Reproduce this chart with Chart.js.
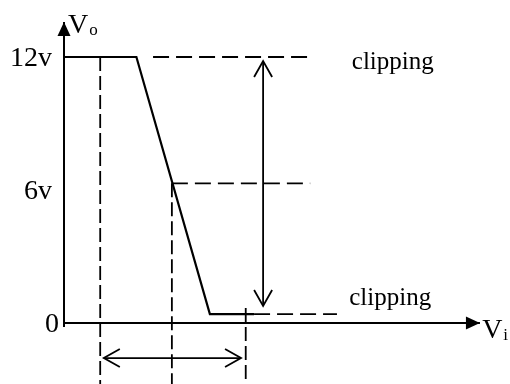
<!DOCTYPE html>
<html>
<head>
<meta charset="utf-8">
<script src="https://cdn.jsdelivr.net/npm/chart.js@4"></script>
<style>
  body { margin: 0; background: #fff; }
  canvas { display: block; }
</style>
</head>
<body>
<canvas id="clipChart" width="510" height="384"></canvas>
<script>
// y axis ticks
const tickValues = [0, 6, 12];
const tickLabels = ["0", "6v", "12v"];

// transfer curve Vo against Vi
const curveVi = [0, 2, 4.03, 5.25];
const curveVo = [12, 12, 0.4, 0.4];

// guide lines (dashed)
const topGuideVi = [2.46, 6.88];
const topGuideVo = [12, 12];
const midGuideVi = [2.98, 6.8];
const midGuideVo = [6.3, 6.3];
const lowGuideVi = [5.25, 7.54];
const lowGuideVo = [0.4, 0.4];
const dropVi = [1.0, 2.98, 5.02];
const dropTopVo = [12, 6.3, 0.68];
const dropBottomVo = -2.75;

// double arrows: output swing and input range
const swingVi = [5.5, 5.5];
const swingVo = [11.82, 0.77];
const rangeVi = [1.1, 4.89];
const rangeVo = [-1.58, -1.58];

// axes
const yAxisVi = [0, 0];
const yAxisVo = [-0.18, 13.58];
const xAxisVi = [0, 11.49];
const xAxisVo = [0, 0];

const serif = "'Liberation Serif', 'Times New Roman', serif";

const pts = (xs, ys) => xs.map((x, i) => ({ x: x, y: ys[i] }));

const line = (data, extra) => Object.assign({
    data: data,
    showLine: true,
    borderColor: "#000",
    borderWidth: 2,
    pointRadius: 0,
    tension: 0,
    clip: false
}, extra);

let datasets = [
    line(pts(yAxisVi, yAxisVo), { arrow: "filled" }),
    line(pts(xAxisVi, xAxisVo), { arrow: "filled" }),
    line(pts(topGuideVi, topGuideVo), { borderDash: [16, 7], borderWidth: 1.8 }),
    line(pts(midGuideVi, midGuideVo), { borderDash: [16, 7], borderWidth: 1.8 }),
    line(pts(lowGuideVi, lowGuideVo), { borderDash: [16, 7], borderWidth: 1.8 })
];

for (let i = 0; i < dropVi.length; i++) {
    datasets.push(line(pts([dropVi[i], dropVi[i]], [dropTopVo[i], dropBottomVo]),
        { borderDash: [14, 5], borderWidth: 1.8 }));
}

datasets.push(line(pts(curveVi, curveVo), { borderWidth: 2.2 }));
datasets.push(line(pts(swingVi, swingVo), { arrow: "open", arrowBoth: true, borderWidth: 1.8 }));
datasets.push(line(pts(rangeVi, rangeVo), { arrow: "open", arrowBoth: true, borderWidth: 1.8 }));

// free text, placed in data units
const notes = [
    { text: "clipping", x: 7.95, y: 11.46, size: 25 },
    { text: "clipping", x: 7.88, y: 0.81, size: 25 },
    { text: "V", sub: "o", x: 0.11, y: 13.08, size: 28 },
    { text: "V", sub: "i", x: 11.55, y: -0.68, size: 28 }
];

const arrowPlugin = {
    id: "arrows",
    afterDatasetsDraw(chart) {
        const ctx = chart.ctx;
        chart.data.datasets.forEach((ds, i) => {
            if (!ds.arrow) return;
            const p = chart.getDatasetMeta(i).data;
            let ends = [[p[p.length - 2], p[p.length - 1]]];
            if (ds.arrowBoth) ends.push([p[1], p[0]]);

            ends.forEach(([a, b]) => {
                const ang = Math.atan2(b.y - a.y, b.x - a.x);
                const c = Math.cos(ang), s = Math.sin(ang);
                ctx.save();
                ctx.strokeStyle = "#000";
                ctx.fillStyle = "#000";
                if (ds.arrow === "filled") {
                    const len = 14, half = 6.5;
                    ctx.beginPath();
                    ctx.moveTo(b.x, b.y);
                    ctx.lineTo(b.x - len * c - half * s, b.y - len * s + half * c);
                    ctx.lineTo(b.x - len * c + half * s, b.y - len * s - half * c);
                    ctx.closePath();
                    ctx.fill();
                } else {
                    const len = 16, half = 9;
                    ctx.lineWidth = 1.8;
                    ctx.beginPath();
                    ctx.moveTo(b.x - len * c - half * s, b.y - len * s + half * c);
                    ctx.lineTo(b.x, b.y);
                    ctx.lineTo(b.x - len * c + half * s, b.y - len * s - half * c);
                    ctx.stroke();
                }
                ctx.restore();
            });
        });

        // texts
        const xs = chart.scales.x, ys = chart.scales.y;
        notes.forEach(n => {
            const px = xs.getPixelForValue(n.x);
            const py = ys.getPixelForValue(n.y);
            ctx.save();
            ctx.fillStyle = "#000";
            ctx.textBaseline = "alphabetic";
            ctx.textAlign = "left";
            ctx.font = n.size + "px " + serif;
            ctx.fillText(n.text, px, py);
            if (n.sub) {
                const w = ctx.measureText(n.text).width;
                ctx.font = Math.round(n.size * 0.6) + "px " + serif;
                ctx.fillText(n.sub, px + w + 1, py + 2);
            }
            ctx.restore();
        });
    }
};

const clipChart = new Chart(document.getElementById("clipChart"), {
    type: "scatter",
    data: { datasets: datasets },
    plugins: [arrowPlugin],
    options: {
        responsive: false,
        animation: false,
        layout: { padding: 0 },
        plugins: {
            legend: { display: false },
            tooltip: { enabled: false }
        },
        scales: {
            x: {
                type: "linear",
                display: false,
                min: 0,
                max: 12.32
            },
            y: {
                type: "linear",
                min: -2.75,
                max: 14.57,
                border: { display: false },
                grid: { display: false, drawTicks: false },
                afterBuildTicks: (scale) => {
                    scale.ticks = tickValues.map(v => ({ value: v }));
                },
                afterFit: (scale) => {
                    scale.width = 64;
                    scale.paddingTop = 0;
                    scale.paddingBottom = 0;
                },
                ticks: {
                    padding: 5,
                    labelOffset: 2,
                    color: "#000",
                    font: { family: serif, size: 28 },
                    // the "0" sits closer to the axis than the volt labels
                    callback: (value, index) => index > 0 ? tickLabels[index] + " " : tickLabels[index]
                }
            }
        }
    }
});
</script>
</body>
</html>
